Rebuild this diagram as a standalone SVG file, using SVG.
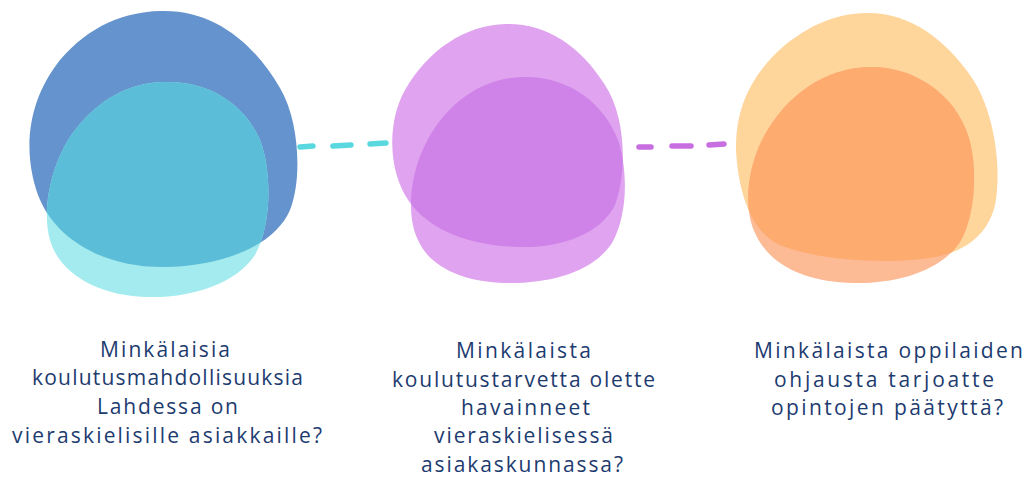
<svg xmlns="http://www.w3.org/2000/svg" width="1029" height="479" viewBox="0 0 1029 479">
<style>
.lbl{font-family:"Open Sans","Lato","Liberation Sans",sans-serif;font-size:21px;fill:#1d3b6f;font-variant-ligatures:none;}
.dash{fill:none;stroke-width:5.5;stroke-linecap:round;}
</style>
<defs>
<path id="b1a" d="M160,11 C215,9 255,45 280,88 C300,122 302,180 290,210 C275,245 225,266 165,267 C105,268 55,240 38,195 C22,150 28,100 60,60 C90,25 125,12 160,11 Z"/>
<path id="b1b" d="M163,82 C210,80 245,105 260,140 C272,170 272,225 255,255 C235,285 190,298 148,297 C100,296 60,275 50,240 C40,205 55,155 75,130 C100,98 130,83 163,82 Z"/>
<path id="b2a" d="M506,24 C545,23 580,45 605,85 C625,115 628,170 615,205 C600,235 560,248 520,247 C470,246 425,230 405,195 C388,165 388,120 405,90 C428,50 465,25 506,24 Z"/>
<path id="b2b" d="M523,77 C570,76 605,105 618,140 C628,170 628,215 612,243 C593,272 550,284 505,283 C465,282 430,268 418,240 C406,215 410,175 425,145 C445,105 480,78 523,77 Z"/>
<path id="b3a" d="M866,13 C910,12 945,40 970,75 C995,110 1002,170 995,205 C988,235 965,250 940,256 C900,265 820,262 780,245 C750,232 738,190 736,150 C735,110 750,75 785,45 C810,25 835,14 866,13 Z"/>
<path id="b3b" d="M869,67 C915,66 955,95 968,135 C978,165 976,215 960,242 C940,272 895,284 853,283 C805,282 770,265 756,235 C743,210 747,170 762,140 C785,95 825,68 869,67 Z"/>
<clipPath id="c1"><use href="#b1a"/></clipPath>
<clipPath id="c2"><use href="#b2a"/></clipPath>
<clipPath id="c3"><use href="#b3a"/></clipPath>
</defs>

<g id="connectors">
<path class="dash" stroke="#5ad8e0" d="M300,147 L313,146 M333,146 L351,145 M370,144 L386,143"/>
<path class="dash" stroke="#c86ee0" d="M639,147 L651,147 M672,146 L691,146 M709,145 L724,144"/>
</g>

<g id="node1">
<use href="#b1a" fill="#6593cd"/>
<use href="#b1b" fill="#a3ebee"/>
<use href="#b1b" fill="#5cbdd8" clip-path="url(#c1)"/>
<text class="lbl" x="100" y="357" textLength="130" lengthAdjust="spacing">Minkälaisia</text>
<text class="lbl" x="32" y="385" textLength="271" lengthAdjust="spacing">koulutusmahdollisuuksia</text>
<text class="lbl" x="97" y="414" textLength="141" lengthAdjust="spacing">Lahdessa on</text>
<text class="lbl" x="12" y="443" textLength="310" lengthAdjust="spacing">vieraskielisille asiakkaille?</text>
</g>

<g id="node2">
<use href="#b2a" fill="#dfa3ef"/>
<use href="#b2b" fill="#dfa3ef"/>
<use href="#b2b" fill="#cf82e8" clip-path="url(#c2)"/>
<text class="lbl" x="456" y="358" textLength="135" lengthAdjust="spacing">Minkälaista</text>
<text class="lbl" x="392" y="387" textLength="263" lengthAdjust="spacing">koulutustarvetta olette</text>
<text class="lbl" x="461" y="415" textLength="129" lengthAdjust="spacing">havainneet</text>
<text class="lbl" x="434" y="443" textLength="179" lengthAdjust="spacing">vieraskielisessä</text>
<text class="lbl" x="421" y="472" textLength="202" lengthAdjust="spacing">asiakaskunnassa?</text>
</g>

<g id="node3">
<use href="#b3a" fill="#fed59b"/>
<use href="#b3b" fill="#fdbb95"/>
<use href="#b3b" fill="#fdab6e" clip-path="url(#c3)"/>
<text class="lbl" x="754" y="358" textLength="269" lengthAdjust="spacing">Minkälaista oppilaiden</text>
<text class="lbl" x="774" y="387" textLength="220" lengthAdjust="spacing">ohjausta tarjoatte</text>
<text class="lbl" x="771" y="415" textLength="232" lengthAdjust="spacing">opintojen päätyttä?</text>
</g>
</svg>
